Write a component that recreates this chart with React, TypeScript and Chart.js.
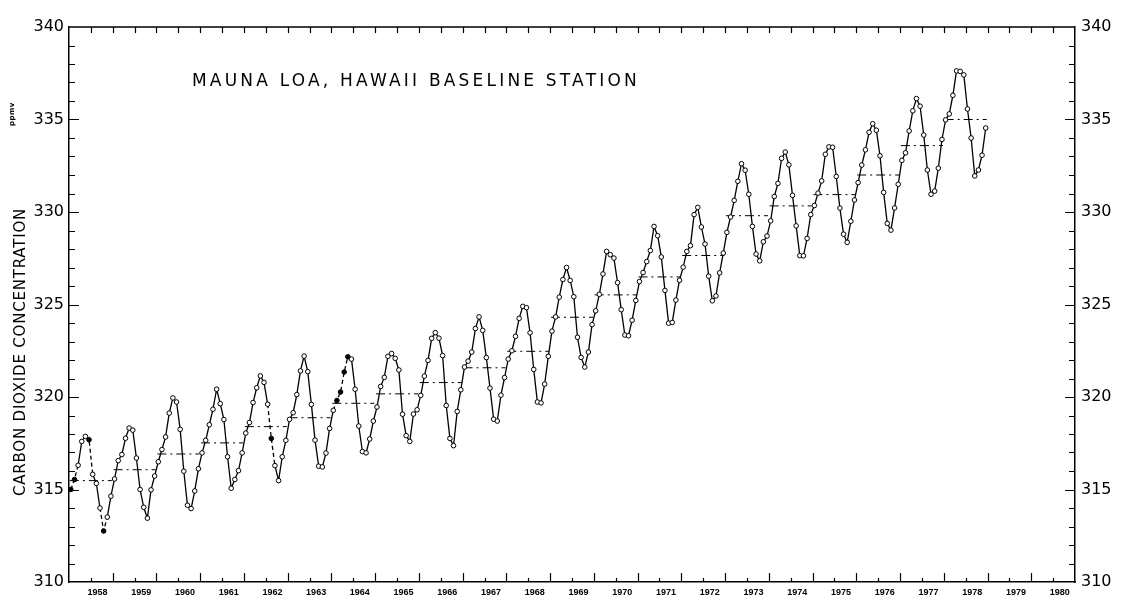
import React, { useEffect, useRef } from "react";
import { Chart, registerables } from "chart.js";

Chart.register(...registerables);

// ---- DATA (ppmv) ----
const START_YEAR = 1958;
const co2_1958 = [315.0, 315.54, 316.31, 317.6, 317.87, 317.69, 315.82, 315.33, 314.0, 312.76, 313.51, 314.64];
const co2_1959 = [315.57, 316.56, 316.89, 317.77, 318.32, 318.21, 316.7, 315.0, 314.04, 313.45, 314.98, 315.73];
const co2_1960 = [316.5, 317.16, 317.84, 319.13, 319.95, 319.73, 318.25, 315.99, 314.15, 313.97, 314.92, 316.12];
const co2_1961 = [316.98, 317.66, 318.5, 319.34, 320.42, 319.64, 318.78, 316.77, 315.07, 315.54, 316.02, 316.98];
const co2_1962 = [318.05, 318.62, 319.7, 320.5, 321.14, 320.79, 319.61, 317.76, 316.29, 315.48, 316.77, 317.66];
const co2_1963 = [318.79, 319.15, 320.13, 321.41, 322.21, 321.37, 319.6, 317.67, 316.26, 316.22, 316.97, 318.3];
const co2_1964 = [319.28, 319.81, 320.27, 321.35, 322.17, 322.05, 320.42, 318.43, 317.05, 316.98, 317.73, 318.7];
const co2_1965 = [319.46, 320.57, 321.06, 322.2, 322.35, 322.09, 321.46, 319.07, 317.91, 317.6, 319.08, 319.31];
const co2_1966 = [320.09, 321.13, 321.98, 323.17, 323.48, 323.18, 322.24, 319.54, 317.76, 317.37, 319.22, 320.39];
const co2_1967 = [321.62, 321.94, 322.43, 323.7, 324.33, 323.6, 322.13, 320.48, 318.8, 318.7, 320.1, 321.05];
const co2_1968 = [322.05, 322.5, 323.28, 324.25, 324.9, 324.83, 323.47, 321.49, 319.73, 319.68, 320.7, 322.2];
const co2_1969 = [323.56, 324.33, 325.4, 326.35, 327.0, 326.3, 325.42, 323.23, 322.14, 321.62, 322.43, 323.91];
const co2_1970 = [324.66, 325.55, 326.65, 327.87, 327.69, 327.51, 326.18, 324.72, 323.35, 323.31, 324.15, 325.22];
const co2_1971 = [326.24, 326.73, 327.32, 327.92, 329.22, 328.72, 327.57, 325.76, 323.99, 324.03, 325.24, 326.31];
const co2_1972 = [327.02, 327.87, 328.18, 329.86, 330.25, 329.19, 328.27, 326.53, 325.2, 325.46, 326.71, 327.78];
const co2_1973 = [328.9, 329.73, 330.63, 331.66, 332.61, 332.26, 330.96, 329.22, 327.73, 327.36, 328.39, 328.7];
const co2_1974 = [329.52, 330.84, 331.55, 332.9, 333.24, 332.55, 330.9, 329.25, 327.64, 327.63, 328.57, 329.86];
const co2_1975 = [330.35, 331.02, 331.68, 333.12, 333.52, 333.5, 331.92, 330.21, 328.8, 328.36, 329.5, 330.65];
const co2_1976 = [331.59, 332.54, 333.36, 334.31, 334.77, 334.42, 333.04, 331.06, 329.38, 329.02, 330.22, 331.5];
const co2_1977 = [332.79, 333.2, 334.38, 335.47, 336.13, 335.72, 334.16, 332.27, 330.96, 331.13, 332.37, 333.92];
const co2_1978 = [334.98, 335.3, 336.31, 337.63, 337.6, 337.41, 335.57, 334.0, 331.95, 332.27, 333.07, 334.54];

const monthlyByYear = [
  co2_1958, co2_1959, co2_1960, co2_1961, co2_1962, co2_1963, co2_1964,
  co2_1965, co2_1966, co2_1967, co2_1968, co2_1969, co2_1970, co2_1971,
  co2_1972, co2_1973, co2_1974, co2_1975, co2_1976, co2_1977, co2_1978,
];

// months drawn as filled (estimated) dots, joined by broken line
const estimatedMonths = ["1958-01", "1958-02", "1958-06", "1958-10", "1962-08", "1964-02", "1964-03", "1964-04", "1964-05"];

// annual mean levels (dashed bars), 1958..1978
const annualMean = [
  315.48, 316.07, 316.92, 317.52, 318.4, 318.88, 319.66, 320.17, 320.78, 321.58,
  322.47, 324.31, 325.52, 326.49, 327.65, 329.8, 330.33, 330.94, 332.0, 333.59, 335.0,
];

// x-axis year labels
const yearLabels = [
  1958, 1959, 1960, 1961, 1962, 1963, 1964, 1965, 1966, 1967, 1968, 1969,
  1970, 1971, 1972, 1973, 1974, 1975, 1976, 1977, 1978, 1979, 1980,
];
const yTickValues = [310, 315, 320, 325, 330, 335, 340];

const X_MIN = 1958;
const X_MAX = 1981;
const Y_MIN = 310;
const Y_MAX = 340;

const axisTicksPlugin = {
  id: "axisTicks",
  afterDraw(chart: any) {
    const { ctx, chartArea, scales } = chart;
    const { left, right, top, bottom } = chartArea;
    const xs = scales.x;
    const ys = scales.y;
    ctx.save();
    ctx.strokeStyle = "#000";
    ctx.lineWidth = 1.5;
    ctx.beginPath();
    ctx.moveTo(left, top);
    ctx.lineTo(right, top);
    ctx.stroke();
    ctx.lineWidth = 1.2;
    ctx.beginPath();
    for (let k = 1; k < (X_MAX - X_MIN) * 2; k++) {
      const t = X_MIN + k * 0.5;
      const px = Math.round(xs.getPixelForValue(t)) + 0.5;
      const isYear = k % 2 === 0;
      ctx.moveTo(px, bottom);
      ctx.lineTo(px, bottom - (isYear ? 9 : 4));
      ctx.moveTo(px, top);
      ctx.lineTo(px, top + 6);
    }
    for (let v = Y_MIN + 1; v < Y_MAX; v++) {
      const py = Math.round(ys.getPixelForValue(v)) + 0.5;
      const len = v % 5 === 0 ? 10 : 6;
      ctx.moveTo(left, py);
      ctx.lineTo(left + len, py);
      ctx.moveTo(right, py);
      ctx.lineTo(right - len, py);
    }
    ctx.stroke();
    ctx.restore();
  },
};

export default function App() {
  const canvasRef = useRef<HTMLCanvasElement | null>(null);

  useEffect(() => {
    if (!canvasRef.current) return;
    const estSet = new Set(estimatedMonths);
    const points: { x: number; y: number }[] = [];
    const est: boolean[] = [];
    monthlyByYear.forEach((vals, yi) => {
      const year = START_YEAR + yi;
      vals.forEach((v, m) => {
        points.push({ x: year + (m + 0.5) / 12, y: v });
        const key = `${year}-${String(m + 1).padStart(2, "0")}`;
        est.push(estSet.has(key));
      });
    });
    const meanPts: { x: number; y: number | null }[] = [];
    annualMean.forEach((v, yi) => {
      const year = START_YEAR + yi;
      meanPts.push({ x: year + 0.02, y: v });
      meanPts.push({ x: year + 0.98, y: v });
      meanPts.push({ x: year + 0.99, y: null });
    });

    const fontTick = { family: '"DejaVu Sans", sans-serif', size: 16 };

    const chart = new Chart(canvasRef.current, {
      type: "line",
      data: {
        datasets: [
          {
            label: "Monthly mean CO2",
            data: points,
            borderColor: "#000",
            borderWidth: 1.3,
            pointRadius: 2.3,
            pointBorderWidth: 1,
            pointBorderColor: "#000",
            pointBackgroundColor: est.map((e) => (e ? "#000" : "#fff")),
            tension: 0,
            order: 0,
            segment: {
              borderDash: (c: any) => (est[c.p0DataIndex] || est[c.p1DataIndex] ? [4, 3] : []),
            },
          } as any,
          {
            label: "Annual mean",
            data: meanPts,
            borderColor: "#000",
            borderWidth: 1,
            borderDash: [9, 4, 2, 4],
            pointRadius: 0,
            spanGaps: false,
            tension: 0,
            order: 1,
          } as any,
        ],
      },
      options: {
        animation: false,
        responsive: false,
        devicePixelRatio: 1,
        layout: { padding: { top: 27, left: 0, right: 0, bottom: 0 } },
        plugins: {
          legend: { display: false },
          tooltip: { enabled: false },
          title: { display: false },
        },
        scales: {
          x: {
            type: "linear",
            position: "bottom",
            min: X_MIN,
            max: X_MAX,
            grid: { display: false, drawTicks: false },
            border: { display: true, color: "#000", width: 1.5 },
            ticks: {
              color: "#000",
              font: { family: '"Liberation Sans Narrow", "Liberation Sans", sans-serif', size: 9, weight: "bold" },
              padding: 5,
              autoSkip: false,
              maxRotation: 0,
              minRotation: 0,
              callback: (v: any) => String(Math.floor(Number(v) + 1e-6)),
            },
            afterBuildTicks: (s: any) => {
              s.ticks = yearLabels.map((y) => ({ value: y + 0.65 }));
            },
            afterFit: (s: any) => {
              s.height = 20;
            },
          },
          y: {
            type: "linear",
            position: "left",
            min: Y_MIN,
            max: Y_MAX,
            grid: { display: false, drawTicks: false },
            border: { display: true, color: "#000", width: 1.5 },
            ticks: { color: "#000", font: fontTick, padding: 5 },
            afterBuildTicks: (s: any) => {
              s.ticks = yTickValues.map((v) => ({ value: v }));
            },
            afterFit: (s: any) => {
              s.width = 69;
            },
          },
          y2: {
            type: "linear",
            position: "right",
            min: Y_MIN,
            max: Y_MAX,
            grid: { display: false, drawTicks: false },
            border: { display: true, color: "#000", width: 1.5 },
            ticks: { color: "#000", font: fontTick, padding: 6 },
            afterBuildTicks: (s: any) => {
              s.ticks = yTickValues.map((v) => ({ value: v }));
            },
            afterFit: (s: any) => {
              s.width = 46;
            },
          },
        },
      } as any,
      plugins: [axisTicksPlugin],
    });
    return () => chart.destroy();
  }, []);

  return (
    <div
      style={{
        position: "fixed",
        left: 0,
        top: 0,
        width: 1121,
        height: 602,
        background: "#fff",
        overflow: "hidden",
      }}
    >
      <canvas ref={canvasRef} width={1121} height={602} style={{ display: "block" }} />
      <div
        style={{
          position: "absolute",
          left: 192,
          top: 72,
          fontFamily: '"DejaVu Sans", sans-serif',
          fontSize: 17,
          lineHeight: "17px",
          letterSpacing: "3.2px",
          color: "#000",
          whiteSpace: "nowrap",
        }}
      >
        MAUNA LOA, HAWAII BASELINE STATION
      </div>
      <div
        style={{
          position: "absolute",
          left: 20,
          top: 352,
          transform: "translate(-50%, -50%) rotate(-90deg)",
          fontFamily: '"DejaVu Sans", sans-serif',
          fontSize: 15,
          lineHeight: "15px",
          letterSpacing: "0.8px",
          color: "#000",
          whiteSpace: "nowrap",
        }}
      >
        CARBON DIOXIDE CONCENTRATION
      </div>
      <div
        style={{
          position: "absolute",
          left: 12,
          top: 114,
          transform: "translate(-50%, -50%) rotate(-90deg)",
          fontFamily: '"DejaVu Sans", sans-serif',
          fontSize: 7,
          lineHeight: "7px",
          fontWeight: "bold",
          letterSpacing: "0.5px",
          color: "#000",
          whiteSpace: "nowrap",
        }}
      >
        ppmv
      </div>
    </div>
  );
}
